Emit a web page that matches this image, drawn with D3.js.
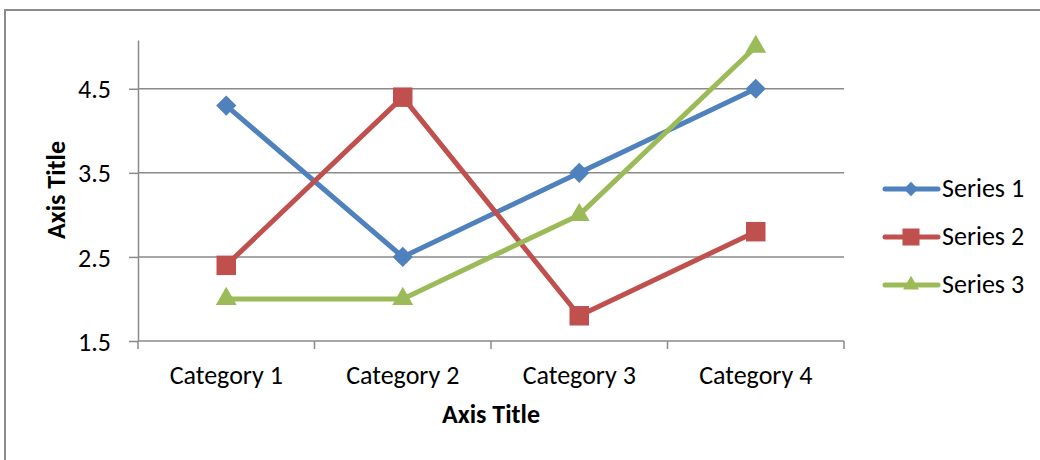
<!DOCTYPE html>
<html>
<head>
<meta charset="utf-8">
<script src="https://cdn.jsdelivr.net/npm/d3@7"></script>
<style>
  body { margin: 0; background: #fff; }
  text { font-family: Carlito, Lato, "Open Sans", sans-serif; fill: #000; }
</style>
</head>
<body>
<div class="chart"></div>
<script>
// data
const categories = ['Category 1', 'Category 2', 'Category 3', 'Category 4'];
const seriesNames = ['Series 1', 'Series 2', 'Series 3'];
const series1 = [4.3, 2.5, 3.5, 4.5];
const series2 = [2.4, 4.4, 1.8, 2.8];
const series3 = [2, 2, 3, 5];
const yTicks = [1.5, 2.5, 3.5, 4.5];

const colors = ['#4F81BD', '#C0504D', '#9BBB59'];
const shapes = [d3.symbolDiamond2, d3.symbolSquare, d3.symbolTriangle];
const markSize = [260, 380, 190];
const legendMarkSize = [130, 290, 110];

const svg_width = 1040, svg_height = 460;
const margin = { top: 40, left: 138, right: 196, bottom: 119 };
const chart_width = svg_width - margin.left - margin.right;
const chart_height = svg_height - margin.top - margin.bottom;

const svg = d3.select('.chart').append('svg')
    .attr('width', svg_width).attr('height', svg_height);

// outer border (only top/left visible in reference)
svg.append('rect')
    .attr('x', 5).attr('y', 10)
    .attr('width', 1060).attr('height', 480)
    .attr('fill', 'none').attr('stroke', '#8c8c8c').attr('stroke-width', 2);

const g = svg.append('g').attr('transform', `translate(${margin.left},${margin.top})`);

const xScale = d3.scaleBand().domain(categories).range([0, chart_width]);
const yScale = d3.scaleLinear().domain([1.5, 5.08]).range([chart_height, 0]);

// gridlines
g.append('g').selectAll('line').data(yTicks.slice(1)).join('line')
    .attr('x1', 0).attr('x2', chart_width)
    .attr('y1', d => yScale(d)).attr('y2', d => yScale(d))
    .attr('stroke', '#8a8a8a').attr('stroke-width', 1.5);

// y axis
const yAxis = d3.axisLeft(yScale).tickValues(yTicks).tickFormat(d3.format('.1f'))
    .tickSizeInner(9).tickSizeOuter(0).tickPadding(18);
const yAxisDraw = g.append('g').call(yAxis);
yAxisDraw.selectAll('path, line').attr('stroke', '#8a8a8a').attr('stroke-width', 1.5);
yAxisDraw.selectAll('text').style('font-size', '26px').attr('fill', '#000')
    .attr('dy', '0.35em');

// x axis - ticks at category boundaries
const xAxisG = g.append('g').attr('transform', `translate(0,${chart_height})`);
xAxisG.append('line').attr('x1', 0).attr('x2', chart_width)
    .attr('stroke', '#8a8a8a').attr('stroke-width', 1.5);
const bounds = categories.map(c => xScale(c)).concat([chart_width]);
xAxisG.selectAll('.tk').data(bounds).join('line').attr('class', 'tk')
    .attr('x1', d => d).attr('x2', d => d).attr('y1', 0).attr('y2', 8)
    .attr('stroke', '#8a8a8a').attr('stroke-width', 1.5);
xAxisG.selectAll('.lbl').data(categories).join('text').attr('class', 'lbl')
    .attr('x', d => xScale(d) + xScale.bandwidth() / 2)
    .attr('y', 43)
    .attr('text-anchor', 'middle')
    .style('font-size', '26px')
    .text(d => d);

// axis titles
svg.append('text')
    .attr('x', margin.left + chart_width / 2).attr('y', 423)
    .attr('text-anchor', 'middle')
    .style('font-size', '26px').style('font-weight', 'bold')
    .text('Axis Title');
svg.append('text')
    .attr('transform', `translate(65,190) rotate(-90)`)
    .attr('text-anchor', 'middle')
    .style('font-size', '26px').style('font-weight', 'bold')
    .text('Axis Title');

// lines + markers
const allSeries = [series1, series2, series3];
const line = d3.line()
    .x((d, i) => xScale(categories[i]) + xScale.bandwidth() / 2)
    .y(d => yScale(d));

allSeries.forEach((s, k) => {
    g.append('path').datum(s)
        .attr('d', line)
        .attr('fill', 'none')
        .attr('stroke', colors[k])
        .attr('stroke-width', 5)
        .attr('stroke-linejoin', 'round')
        .attr('stroke-linecap', 'round');
    g.selectAll('.m' + k).data(s).join('path').attr('class', 'm' + k)
        .attr('transform', (d, i) => `translate(${xScale(categories[i]) + xScale.bandwidth() / 2},${yScale(d)})`)
        .attr('d', d3.symbol().type(shapes[k]).size(markSize[k]))
        .attr('fill', colors[k]);
});

// legend
const legend = svg.append('g').attr('transform', 'translate(883,189)');
seriesNames.forEach((name, k) => {
    const row = legend.append('g').attr('transform', `translate(0,${k * 48})`);
    row.append('line').attr('x1', 2).attr('x2', 55)
        .attr('stroke', colors[k]).attr('stroke-width', 5).attr('stroke-linecap', 'round');
    row.append('path')
        .attr('transform', 'translate(28,0)')
        .attr('d', d3.symbol().type(shapes[k]).size(legendMarkSize[k]))
        .attr('fill', colors[k]);
    row.append('text').attr('x', 59).attr('y', 8)
        .style('font-size', '26px').text(name);
});
</script>
</body>
</html>
